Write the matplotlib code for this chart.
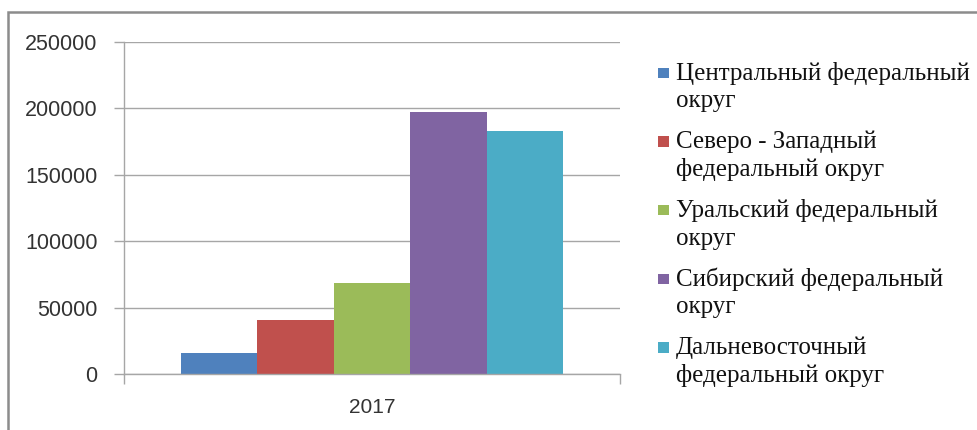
import matplotlib
matplotlib.use("Agg")
import matplotlib.pyplot as plt
from matplotlib.patches import Rectangle
from matplotlib.container import BarContainer
from matplotlib.legend_handler import HandlerPatch

# data
years = ["2017"]
regions = [
    "Центральный федеральный\nокруг",
    "Северо - Западный\nфедеральный округ",
    "Уральский федеральный\nокруг",
    "Сибирский федеральный\nокруг",
    "Дальневосточный\nфедеральный округ",
]
values = [15500, 41000, 68500, 197000, 183000]
colors = ["#4F81BD", "#C0504D", "#9BBB59", "#8064A2", "#4BACC6"]
yticks = [0, 50000, 100000, 150000, 200000, 250000]

grey = "#a6a6a6"

fig = plt.figure(figsize=(9.77, 4.30), dpi=100)
ax = fig.add_axes([124 / 977, 1 - 374 / 430, 496 / 977, 332 / 430])

bar_w = 0.154
n = len(regions)
for i, (name, val, col) in enumerate(zip(regions, values, colors)):
    ax.bar((i - (n - 1) / 2) * bar_w, val, width=bar_w, color=col, label=name, zorder=2)

ax.set_xlim(-0.5, 0.5)
ax.set_ylim(0, 250000)
ax.set_yticks(yticks)
ax.set_yticklabels([str(t) for t in yticks])
ax.yaxis.grid(True, color=grey, linewidth=1.0, zorder=0)

# category axis: label in the middle, tick marks at the edges
ax.set_xticks([-0.5, 0.5])
ax.set_xticklabels([])
ax.set_xticks([0], minor=True)
ax.set_xticklabels(years, minor=True)
ax.tick_params(axis="x", which="major", direction="out", length=7, width=1, color=grey)
ax.tick_params(axis="x", which="minor", length=0, pad=17, labelsize=15, labelcolor="#333333")
ax.tick_params(axis="y", direction="out", length=7, width=1, color=grey,
               pad=12, labelsize=15.5, labelcolor="#333333")

for side in ["top", "right"]:
    ax.spines[side].set_visible(False)
for side in ["left", "bottom"]:
    ax.spines[side].set_color(grey)
    ax.spines[side].set_linewidth(1.0)

for lab in ax.get_yticklabels() + ax.get_xticklabels(minor=True):
    lab.set_family("Liberation Sans")


# small square marker next to the first line of each legend entry
def square(legend, orig_handle, xdescent, ydescent, width, height, fontsize):
    s = 0.42 * fontsize
    return Rectangle((-xdescent, -ydescent + (height - s) / 2 + 0.56 * fontsize), s, s)


handler = HandlerPatch(patch_func=square, update_func=lambda h, o: h.update_from(o[0]))
handles, labels = ax.get_legend_handles_labels()
leg = fig.legend(handles, labels, loc="upper left", bbox_to_anchor=(658 / 977, 1 - 62 / 430),
                 frameon=False, borderpad=0, borderaxespad=0,
                 prop={"family": "Liberation Serif", "size": 18},
                 handlelength=0.42, handleheight=0.7, handletextpad=0.3,
                 labelspacing=0.72, handler_map={BarContainer: handler})
for h in leg.legend_handles:
    h.set_linewidth(0)
for t in leg.get_texts():
    t.set_family(["Liberation Serif", "DejaVu Serif"])
    t.set_linespacing(1.31)
    t.set_color("#111111")

# outer frame of the picture
fig.patches.append(Rectangle((8 / 977, -0.05), 1.1, 1 - 12 / 430 + 0.05,
                             transform=fig.transFigure, fill=False,
                             edgecolor="#8c8c8c", linewidth=1.8))

fig.savefig("out.png", dpi=100)
